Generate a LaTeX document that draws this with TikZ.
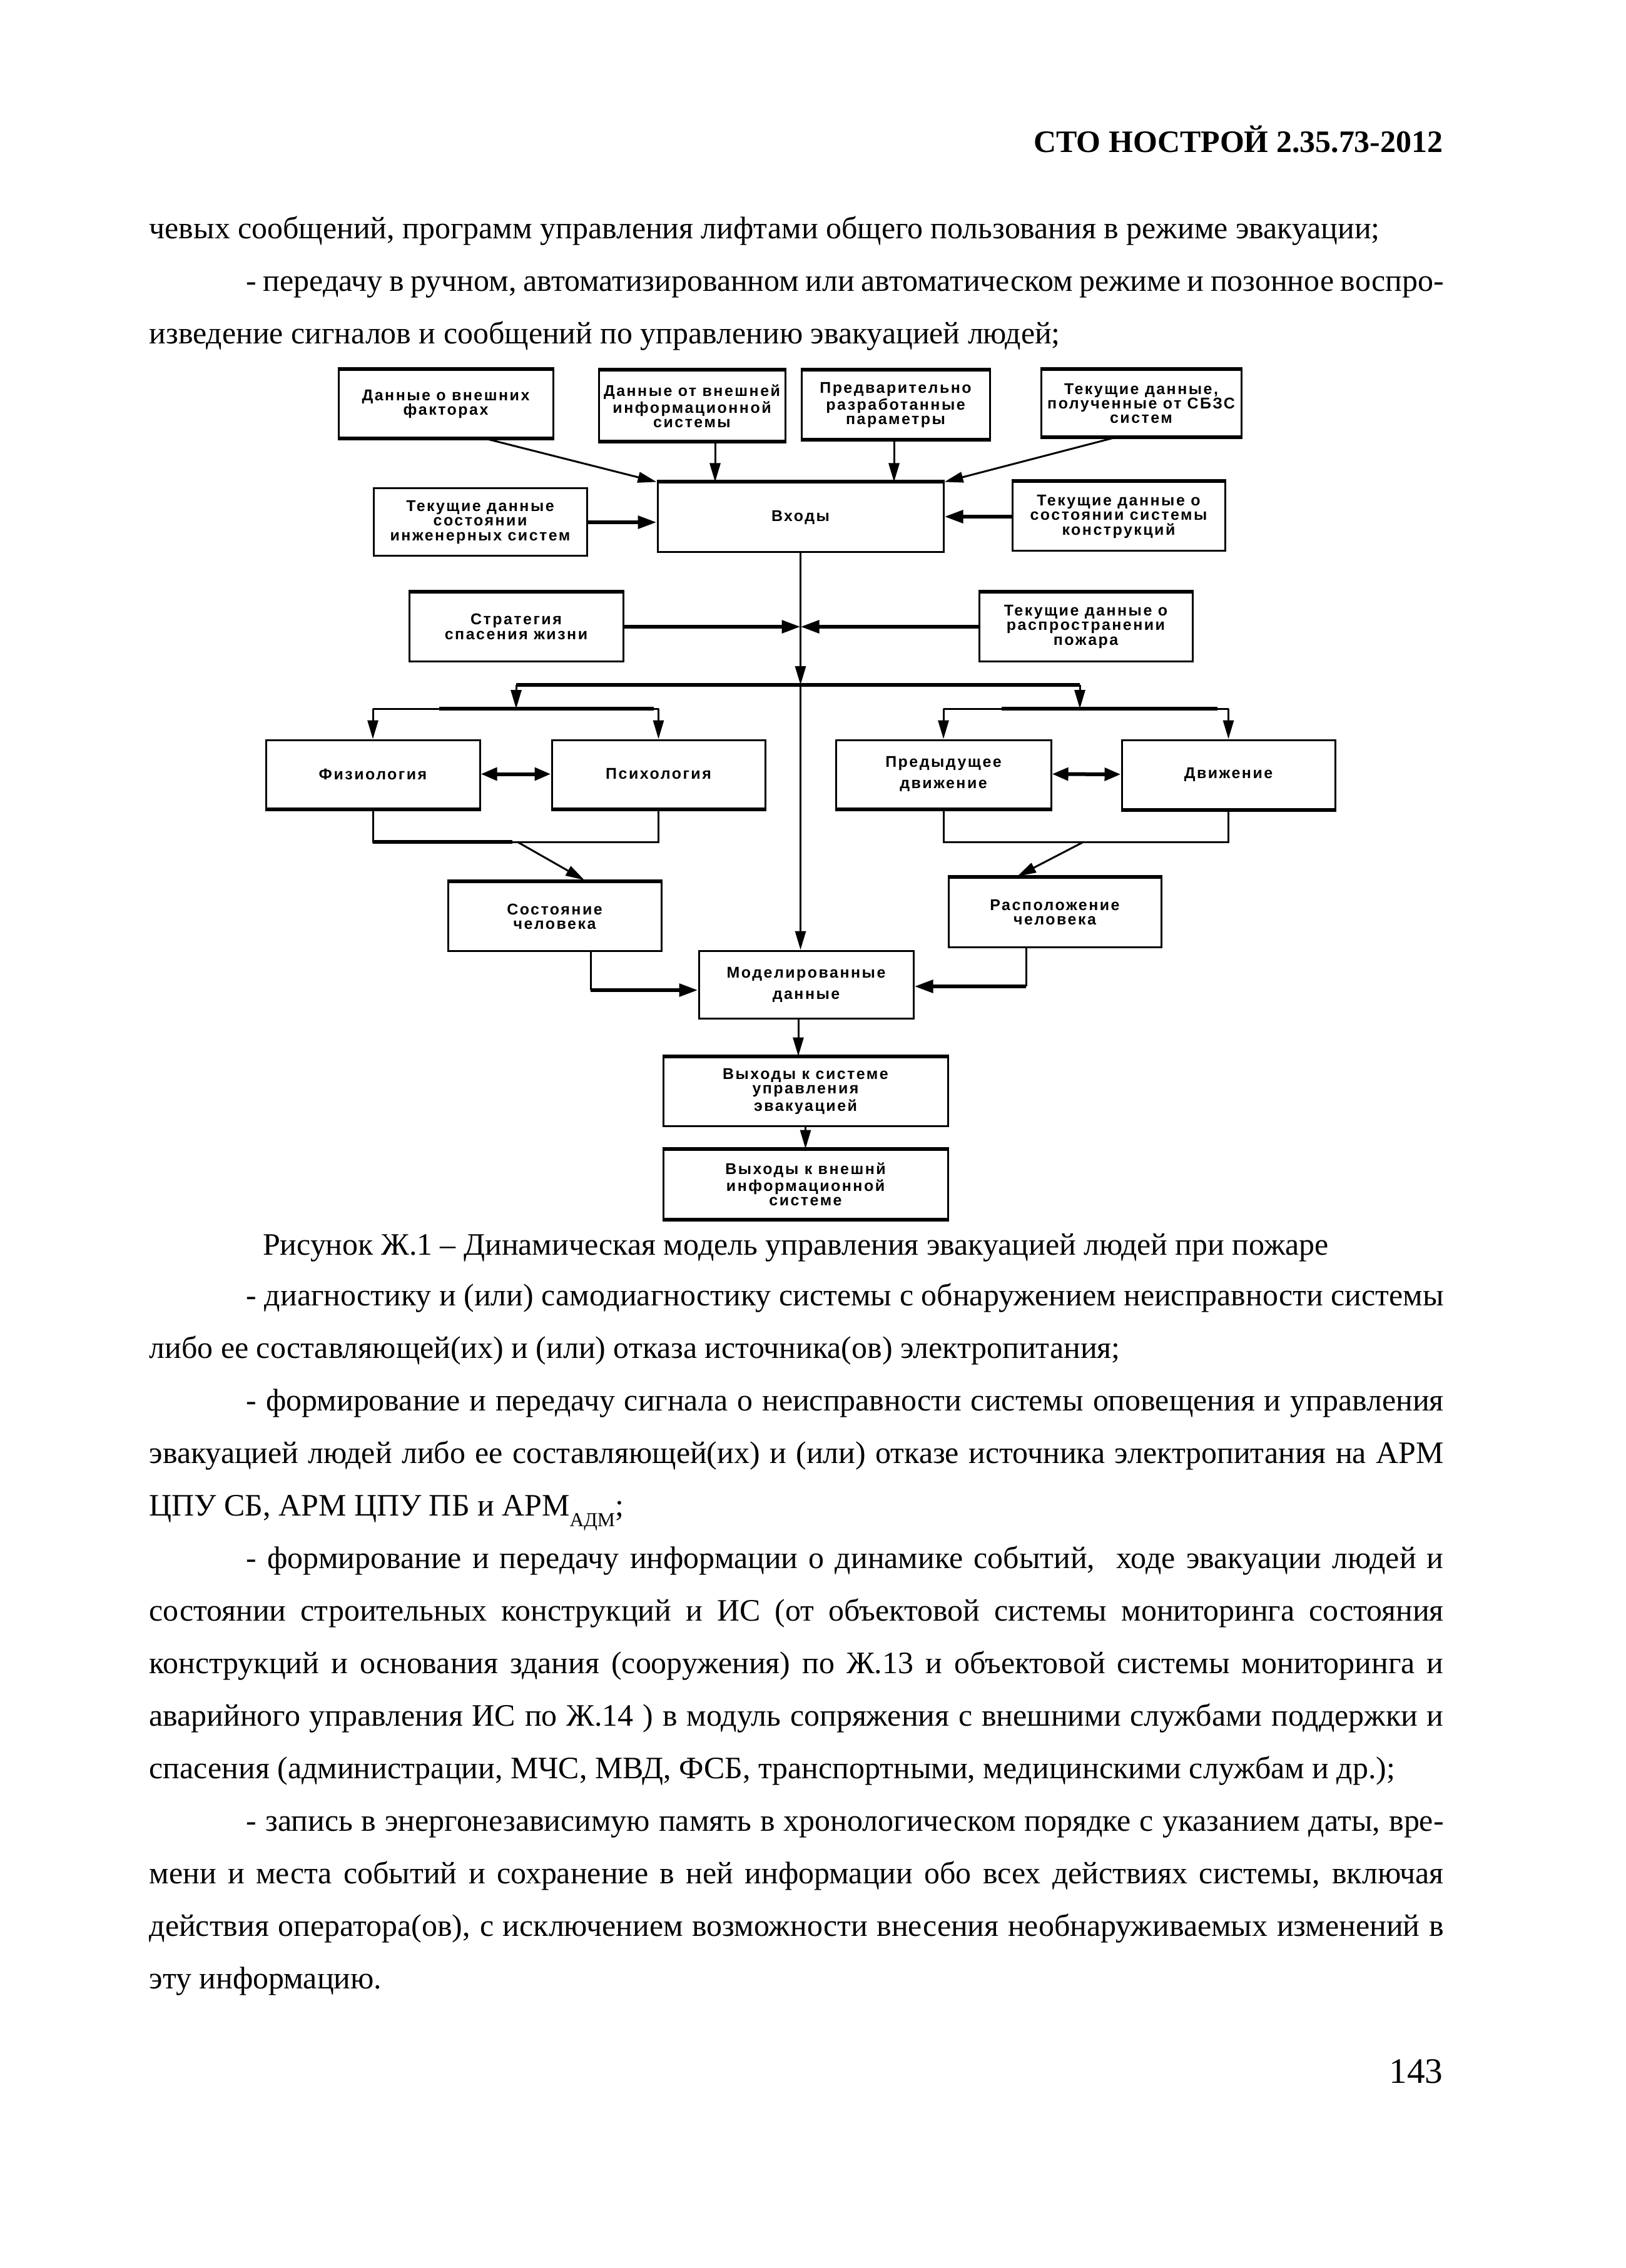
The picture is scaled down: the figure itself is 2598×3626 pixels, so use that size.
\documentclass[tikz,border=0pt]{standalone}
\usepackage{fontspec}
\setmainfont{Liberation Serif}
\newfontfamily\dfont{Liberation Sans}[LetterSpace=10]
\usetikzlibrary{arrows.meta,calc}
\begin{document}
\begin{tikzpicture}[x=0.1mm,y=-0.1mm,
 bx/.style={draw, line width=0.3mm, inner sep=0, align=center, font=\dfont\bfseries\fontsize{7.1}{6.6}\selectfont},
 thk/.style={line width=0.6mm},
 ln/.style={line width=0.3mm},
 arr/.style={ln, -{Triangle[length=3mm,width=1.7mm]}},
 tarr/.style={thk, -{Triangle[length=3mm,width=2mm]}},
 darr/.style={thk, {Triangle[length=2.6mm,width=2mm]}-{Triangle[length=2.6mm,width=2mm]}},
 body/.style={anchor=base west, inner sep=0, font=\fontsize{14.2}{17}\selectfont},
]
\fill[white] (0,0) rectangle (2598,3626);
\useasboundingbox (0,0) rectangle (2598,3626);

% ---------- page text ----------
\node[anchor=base east, inner sep=0, font=\fontsize{14.2}{17}\selectfont\bfseries] (hdr) at (2307,244) {СТО НОСТРОЙ 2.35.73-2012};
\node[body] (t1) at (238,382) {чевых сообщений, программ управления лифтами общего пользования в режиме эвакуации;};
\node[body] (t2) at (393,466) {\makebox[191.4mm][s]{- передачу в ручном, автоматизированном или автоматическом режиме и позонное воспро-}};
\node[body] (t3) at (238,550) {изведение сигналов и сообщений по управлению эвакуацией людей;};

\node[anchor=base, inner sep=0, font=\fontsize{14.2}{17}\selectfont] (cap) at (1272,2006) {Рисунок Ж.1 – Динамическая модель управления эвакуацией людей при пожаре};

\node[body] (p1) at (393,2087) {\makebox[191.4mm][s]{- диагностику и (или) самодиагностику системы с обнаружением неисправности системы}};
\node[body] (p2) at (238,2171) {либо ее составляющей(их) и (или) отказа источника(ов) электропитания;};
\node[body] (p3) at (393,2255) {\makebox[191.4mm][s]{- формирование и передачу сигнала о неисправности системы оповещения и управления}};
\node[body] (p4) at (238,2339) {\makebox[206.9mm][s]{эвакуацией людей либо ее составляющей(их) и (или) отказе источника электропитания на АРМ}};
\node[body] (p5) at (238,2423) {ЦПУ СБ, АРМ ЦПУ ПБ и АРМ\raisebox{-0.35em}{\fontsize{9}{9}\selectfont АДМ};};
\node[body] (p6) at (393,2507) {\makebox[191.4mm][s]{- формирование и передачу информации о динамике событий,\ \ ходе эвакуации людей и}};
\node[body] (p7) at (238,2591) {\makebox[206.9mm][s]{состоянии строительных конструкций и ИС (от объектовой системы мониторинга состояния}};
\node[body] (p8) at (238,2675) {\makebox[206.9mm][s]{конструкций и основания здания (сооружения) по Ж.13 и объектовой системы мониторинга и}};
\node[body] (p9) at (238,2759) {\makebox[206.9mm][s]{аварийного управления ИС по Ж.14 ) в модуль сопряжения с внешними службами поддержки и}};
\node[body] (p10) at (238,2843) {спасения (администрации, МЧС, МВД, ФСБ, транспортными, медицинскими службам и др.);};
\node[body] (p11) at (393,2927) {\makebox[191.4mm][s]{- запись в энергонезависимую память в хронологическом порядке с указанием даты, вре-}};
\node[body] (p12) at (238,3011) {\makebox[206.9mm][s]{мени и места событий и сохранение в ней информации обо всех действиях системы, включая}};
\node[body] (p13) at (238,3095) {\makebox[206.9mm][s]{действия оператора(ов), с исключением возможности внесения необнаруживаемых изменений в}};
\node[body] (p14) at (238,3179) {эту информацию.};
\node[anchor=base east, inner sep=0, font=\fontsize{16.3}{19}\selectfont] (pg) at (2307,3330) {143};

% ---------- diagram boxes ----------
\node[bx, minimum width=34.3mm, minimum height=10.8mm] (b1) at (712.5,646) {Данные о внешних\\факторах};
\node[bx, minimum width=29.8mm, minimum height=11.2mm] (b2) at (1106,649) {Данные от внешней\\информационной\\системы};
\node[bx, minimum width=30.1mm, minimum height=10.9mm] (b3) at (1431.5,647.5) {Предварительно\\разработанные\\параметры};
\node[bx, minimum width=32.0mm, minimum height=10.6mm] (b4) at (1824,645) {Текущие данные,\\полученные от СБЗС\\систем};
\node[bx, minimum width=45.7mm, minimum height=11.1mm] (inp) at (1279.5,827.5) {Входы};
\node[bx, minimum width=34.1mm, minimum height=10.8mm] (eng) at (767.5,835) {Текущие данные\\состоянии\\инженерных систем};
\node[bx, minimum width=34.0mm, minimum height=11.0mm] (kon) at (1788,826) {Текущие данные о\\состоянии системы\\конструкций};
\node[bx, minimum width=34.2mm, minimum height=11.0mm] (strat) at (825,1002) {Стратегия\\спасения жизни};
\node[bx, minimum width=34.1mm, minimum height=11.0mm] (fire) at (1735.5,1002) {Текущие данные о\\распространении\\пожара};
\node[bx, minimum width=34.2mm, minimum height=10.9mm] (fiz) at (596,1237.5) {Физиология};
\node[bx, minimum width=34.1mm, minimum height=10.9mm] (psy) at (1052.5,1237.5) {Психология};
\node[bx, minimum width=34.4mm, minimum height=10.9mm] (prev) at (1508,1237.5) {Предыдущее\\[1.1mm]движение};
\node[bx, minimum width=34.1mm, minimum height=11.0mm] (move) at (1963.5,1238) {Движение};
\node[bx, minimum width=34.1mm, minimum height=11.0mm] (state) at (886.5,1465) {Состояние\\человека};
\node[bx, minimum width=34.0mm, minimum height=11.1mm] (loc) at (1686,1458.5) {Расположение\\человека};
\node[bx, minimum width=34.3mm, minimum height=10.8mm] (model) at (1288.5,1574) {Моделированные\\[1.1mm]данные};
\node[bx, minimum width=45.5mm, minimum height=11.0mm] (out1) at (1287.5,1745) {Выходы к системе\\управления\\эвакуацией};
\node[bx, minimum width=45.5mm, minimum height=11.0mm] (out2) at (1287.5,1893) {Выходы к внешнй\\информационной\\системе};

% thick edges
\foreach \n in {b1,b2,b3,b4,out2}{
  \draw[thk] (\n.north west) -- (\n.north east);
  \draw[thk] (\n.south west) -- (\n.south east);
}
\foreach \n in {inp,kon,strat,fire,state,loc,out1}{
  \draw[thk] (\n.north west) -- (\n.north east);
}
\foreach \n in {fiz,psy,prev,move}{
  \draw[thk] (\n.south west) -- (\n.south east);
}

% ---------- connectors ----------
\coordinate (b1o) at (771,700);
\coordinate (b2o) at (1143,705);
\coordinate (b3o) at (1429,702);
\coordinate (b4o) at (1788,698);
\draw[arr] (b1o) -- (inp.north west);
\draw[arr] (b2o) -- (b2o |- inp.north);
\draw[arr] (b3o) -- (b3o |- inp.north);
\draw[arr] (b4o) -- (inp.north east);
\draw[tarr] (eng.east) -- (eng.east -| inp.west);
\draw[tarr] (kon.west) -- (kon.west -| inp.east);

\coordinate (busy) at (0,1095);
\coordinate (bus) at (inp.south |- busy);
\draw[arr] (inp.south) -- (bus);
\draw[arr] (bus) -- (bus |- model.north);
\draw[tarr] (strat.east) -- (strat.east -| bus);
\draw[tarr] (fire.west) -- (fire.west -| bus);

\coordinate (busL) at (825,1095);
\coordinate (busR) at (1726,1095);
\coordinate (sL) at (825,1133);
\coordinate (sR) at (1726,1133);
\draw[thk] (busL) -- (busR);
\draw[arr] (busL) -- (sL);
\draw[arr] (busR) -- (sR);
\draw[ln] (fiz.north |- sL) -- (psy.north |- sL);
\draw[thk] (702,1133) -- (1045,1133);
\draw[ln] (prev.north |- sR) -- (move.north |- sR);
\draw[thk] (1601,1133) -- (1946,1133);
\draw[arr] (fiz.north |- sL) -- (fiz.north);
\draw[arr] (psy.north |- sL) -- (psy.north);
\draw[arr] (prev.north |- sR) -- (prev.north);
\draw[arr] (move.north |- sR) -- (move.north);

\draw[darr] (fiz.east) -- (psy.west);
\draw[darr] (prev.east) -- (move.west);

\coordinate (brk) at (0,1346);
\draw[ln] (fiz.south) -- (fiz.south |- brk) -- (psy.south |- brk) -- (psy.south);
\draw[thk] (fiz.south |- brk) -- (819,1346);
\draw[ln] (prev.south) -- (prev.south |- brk) -- (move.south |- brk) -- (move.south);
\coordinate (stA) at (827,1346);
\coordinate (stB) at (934,1407);
\draw[arr] (stA) -- (stB);
\coordinate (lcA) at (1732,1346);
\coordinate (lcB) at (1626,1401);
\draw[arr] (lcA) -- (lcB);

\coordinate (sm1) at (944,1583);
\draw[ln] (sm1 |- state.south) -- (sm1);
\draw[tarr] (sm1) -- (sm1 -| model.west);
\coordinate (lm1) at (1640,1577);
\draw[ln] (lm1 |- loc.south) -- (lm1);
\draw[tarr] (lm1) -- (lm1 -| model.east);

\coordinate (mo) at (1276,1628);
\draw[arr] (mo) -- (mo |- out1.north);
\draw[arr] (out1.south) -- (out2.north);
\end{tikzpicture}
\end{document}
